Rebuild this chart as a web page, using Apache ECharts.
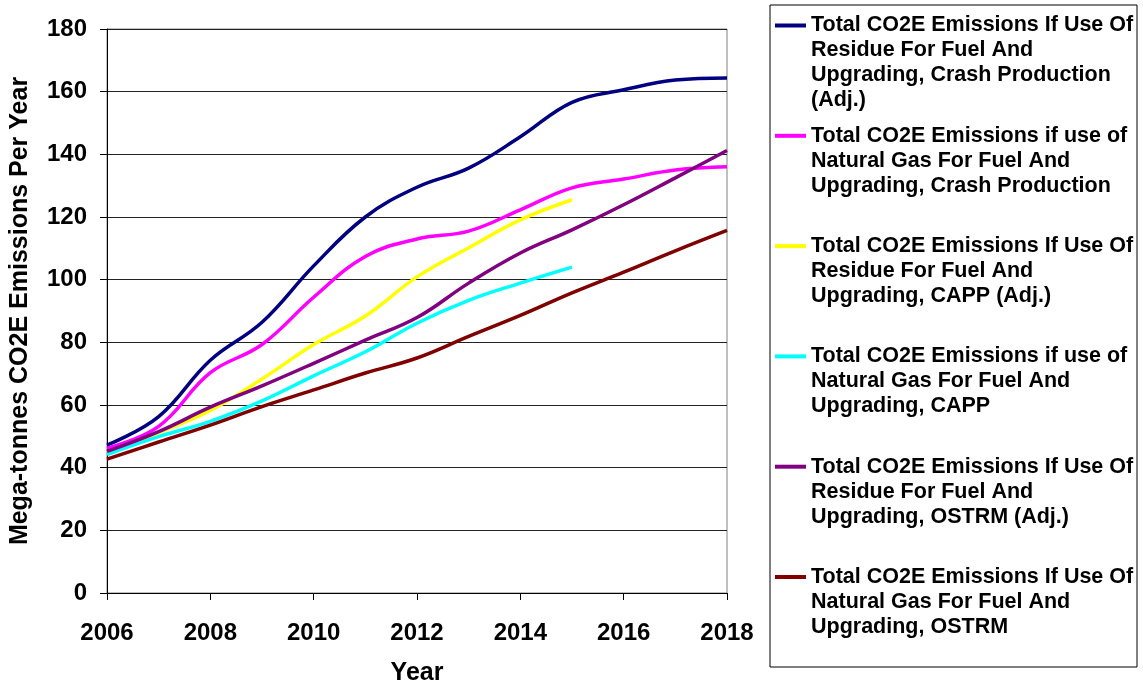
<!DOCTYPE html>
<html>
<head>
<meta charset="utf-8">
<script src="https://cdn.jsdelivr.net/npm/echarts@6/dist/echarts.min.js"></script>
<style>
  html, body { margin: 0; padding: 0; background: #fff; }
  #main { width: 1143px; height: 684px; }
</style>
</head>
<body>
<div id="main"></div>
<script>
let years = [2006, 2007, 2008, 2009, 2010, 2011, 2012, 2013, 2014, 2015, 2016, 2017, 2018];

// Mega-tonnes CO2E per year
let crashResidue = [47.2, 56.3, 74.3, 86.4, 104.4, 120, 129.5, 135.6, 145.6, 156.6, 160.6, 163.7, 164.4];
let crashGas = [46.2, 53.2, 70.3, 79.3, 94.4, 107.4, 113, 115.5, 122.3, 129.3, 132.1, 135, 136];
let cappResidue = [44.7, 51.2, 58.3, 68.3, 79.3, 88.4, 100.9, 110.2, 119.1, 125.5];
let cappGas = [44.2, 49.9, 54.8, 61.3, 69.3, 77, 86.1, 93.4, 98.9, 104];
let ostrmResidue = [45.2, 51.5, 59.3, 66.1, 73.3, 80.7, 87.9, 98.9, 108.5, 115.9, 123.9, 132.5, 141.2];
let ostrmGas = [42.7, 48.2, 53.6, 59.5, 64.8, 70.2, 75, 81.9, 88.6, 95.8, 102.4, 109.2, 115.7];

let seriesNames = [
	'Total CO2E Emissions If Use Of\nResidue For Fuel And\nUpgrading, Crash Production\n(Adj.)',
	'Total CO2E Emissions if use of\nNatural Gas For Fuel And\nUpgrading, Crash Production',
	'Total CO2E Emissions If Use Of\nResidue For Fuel And\nUpgrading, CAPP (Adj.)',
	'Total CO2E Emissions if use of\nNatural Gas For Fuel And\nUpgrading, CAPP',
	'Total CO2E Emissions If Use Of\nResidue For Fuel And\nUpgrading, OSTRM (Adj.)',
	'Total CO2E Emissions If Use Of\nNatural Gas For Fuel And\nUpgrading, OSTRM'
];
let seriesValues = [crashResidue, crashGas, cappResidue, cappGas, ostrmResidue, ostrmGas];
let colors = ['#000080', '#FF00FF', '#FFFF00', '#00FFFF', '#800080', '#800000'];

let font = '"Liberation Sans", Arial, sans-serif';
let lineH = 25;

let chartDom = document.getElementById('main');
let myChart = echarts.init(chartDom);

// one legend per entry; blank lines on top keep the icon beside the first text line
let legends = seriesNames.map(function(name, i) {
	let lines = name.split('\n').length;
	let total = 2 * lines - 1;
	let iconY = 25.5 + 110.3 * i;
	return {
		left: 775,
		top: iconY - total * lineH / 2,
		padding: 0,
		icon: 'rect',
		itemWidth: 31,
		itemHeight: 4,
		itemGap: 0,
		selectedMode: false,
		data: [name],
		formatter: function(n) {
			return ' \n'.repeat(lines - 1) + n;
		},
		textStyle: {
			fontFamily: font,
			fontWeight: 'bold',
			fontSize: 21.5,
			lineHeight: lineH,
			color: '#000'
		}
	};
});

let option = {
	backgroundColor: '#fff',
	animation: false,
	grid: {
		left: 107,
		right: 416,
		top: 29,
		bottom: 91,
		containLabel: false,
		outerBoundsMode: 'none',
		show: true,
		borderColor: '#808080',
		borderWidth: 1
	},
	legend: legends,
	graphic: [{
		type: 'rect',
		shape: { x: 770, y: 5, width: 367, height: 662 },
		style: { fill: 'none', stroke: '#000', lineWidth: 1 },
		z: 0
	}],
	xAxis: {
		type: 'value',
		min: 2006,
		max: 2018,
		interval: 2,
		name: 'Year',
		nameLocation: 'middle',
		nameGap: 68,
		nameTextStyle: {
			fontFamily: font,
			fontWeight: 'bold',
			fontSize: 25,
			color: '#000'
		},
		axisLine: { lineStyle: { color: '#000', width: 1 } },
		axisTick: { show: true, length: 7, lineStyle: { color: '#000' } },
		axisLabel: {
			margin: 28,
			fontFamily: font,
			fontWeight: 'bold',
			fontSize: 24,
			color: '#000',
			formatter: function(v) { return String(v); }
		},
		splitLine: { show: false }
	},
	yAxis: {
		type: 'value',
		min: 0,
		max: 180,
		interval: 20,
		name: 'Mega-tonnes CO2E Emissions Per Year',
		nameLocation: 'middle',
		nameGap: 74,
		nameTextStyle: {
			fontFamily: font,
			fontWeight: 'bold',
			fontSize: 25,
			color: '#000'
		},
		axisLine: { show: true, lineStyle: { color: '#000', width: 1 } },
		axisTick: { show: true, length: 7, lineStyle: { color: '#000' } },
		axisLabel: {
			margin: 20,
			fontFamily: font,
			fontWeight: 'bold',
			fontSize: 24,
			color: '#000'
		},
		splitLine: { show: true, lineStyle: { color: '#222', width: 1 } }
	},
	series: seriesNames.map(function(name, i) {
		return {
			name: name,
			type: 'line',
			smooth: 0.4,
			showSymbol: false,
			symbol: 'none',
			itemStyle: { color: colors[i] },
			lineStyle: { color: colors[i], width: 3.5 },
			data: seriesValues[i].map(function(v, k) {
				return [years[k], v];
			})
		};
	})
};

option && myChart.setOption(option);
</script>
</body>
</html>
